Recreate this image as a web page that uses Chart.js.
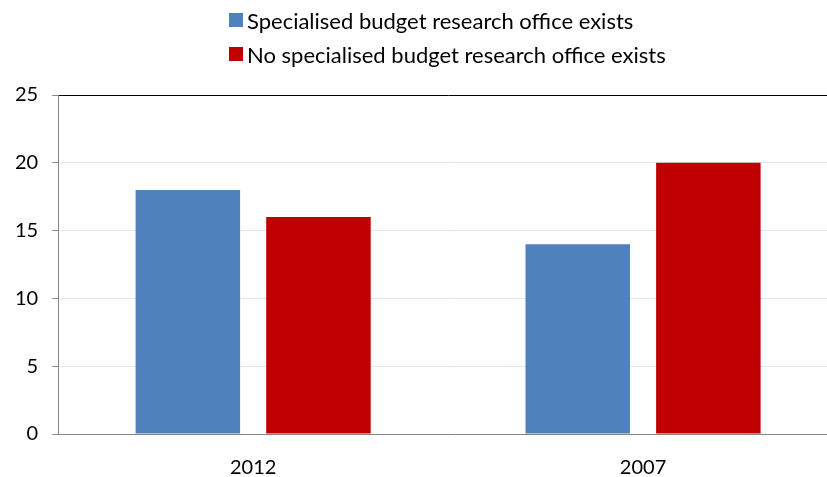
<!DOCTYPE html>
<html lang="en">
    <head>
        <meta charset="utf-8">
        <title>Budget research office</title>
        <script src="https://cdn.jsdelivr.net/npm/chart.js"></script>
        <style>
            html, body { margin: 0; padding: 0; background: #fff; overflow: hidden; }
            .wrap { position: relative; width: 840px; height: 477px; overflow: hidden; }
            .legend { position: absolute; left: 229px; top: 3px; font-family: Lato, "Open Sans", sans-serif; font-size: 22px; color: #000; }
            .legend .row { display: flex; align-items: center; height: 34px; }
            .legend .box { width: 14px; height: 14px; margin-right: 4px; }
        </style>
    </head>
    <body>
        <div class="wrap">
            <div class="legend" id="legend"></div>
            <canvas id="graph" width="840" height="477"></canvas>
        </div>
        <script>
            var categories = ["2012", "2007"];
            var seriesNames = ["Specialised budget research office exists", "No specialised budget research office exists"];
            var officeExists = [18, 14];
            var noOffice = [16, 20];
            var seriesColors = ["#4F81BD", "#C00000"];
            var yTicks = [0, 5, 10, 15, 20, 25];

            var ctx = document.getElementById('graph').getContext('2d');
            var graph = new Chart(ctx, {
                type: 'bar',
                data: {
                    labels: categories,
                    datasets: [{
                        label: seriesNames[0],
                        data: officeExists,
                        backgroundColor: seriesColors[0]
                    }, {
                        label: seriesNames[1],
                        data: noOffice,
                        backgroundColor: seriesColors[1]
                    }]
                },
                options: {
                    responsive: false,
                    animation: false,
                    categoryPercentage: 0.67,
                    barPercentage: 0.8,
                    layout: {
                        padding: { top: 95, left: 1, right: 2, bottom: 0 }
                    },
                    scales: {
                        x: {
                            grid: { display: false },
                            border: { color: '#868686' },
                            afterFit: function(s) { s.height = 43; },
                            ticks: {
                                color: '#000',
                                font: { family: 'Lato', size: 20 },
                                padding: 14
                            }
                        },
                        y: {
                            min: 0,
                            max: 25,
                            afterBuildTicks: function(axis) {
                                axis.ticks = yTicks.map(function(v) { return { value: v }; });
                            },
                            grid: {
                                color: function(c) { return c.tick && c.tick.value === 25 ? '#000' : '#DDE7F3'; },
                                tickColor: '#868686',
                                tickLength: 6
                            },
                            border: { color: '#868686' },
                            ticks: {
                                color: '#000',
                                font: { family: 'Lato', size: 20 },
                                padding: 14
                            }
                        }
                    },
                    plugins: {
                        legend: { display: false },
                        tooltip: { enabled: false }
                    }
                }
            });

            var legend = document.getElementById('legend');
            graph.data.datasets.forEach(function(ds) {
                var row = document.createElement('div');
                row.className = 'row';
                var box = document.createElement('span');
                box.className = 'box';
                box.style.background = ds.backgroundColor;
                var text = document.createElement('span');
                text.textContent = ds.label;
                row.appendChild(box);
                row.appendChild(text);
                legend.appendChild(row);
            });
        </script>
    </body>
</html>
